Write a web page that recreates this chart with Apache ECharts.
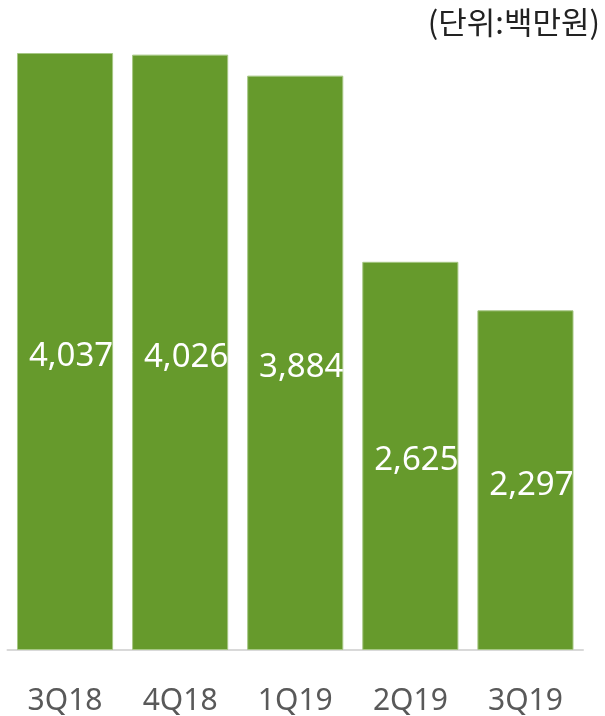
<!DOCTYPE html>
<html><head><meta charset="utf-8">
<script src="https://cdn.jsdelivr.net/npm/echarts@6/dist/echarts.min.js"></script>
<style>html,body{margin:0;padding:0;background:#fff}#c{width:605px;height:716px}</style>
</head><body><div id="c"></div>
<script>
const categories = ['3Q18', '4Q18', '1Q19', '2Q19', '3Q19'];
const values = [4037, 4026, 3884, 2625, 2297];
const unitLabel = '(단위:백만원)';

const chart = echarts.init(document.getElementById('c'));
chart.setOption({
  animation: false,
  title: {
    text: unitLabel, right: 0, top: 2,
    textStyle: { fontFamily: 'Noto Sans CJK KR', fontSize: 31, fontWeight: 'normal', color: '#222' }
  },
  grid: { left: 7.5, right: 22, top: 53, bottom: 66, containLabel: false },
  xAxis: {
    type: 'category', data: categories,
    axisLine: { lineStyle: { color: '#d9d9d9', width: 2 } },
    axisTick: { show: false },
    axisLabel: { color: '#595959', fontSize: 30, fontFamily: 'Noto Sans', margin: 36 }
  },
  yAxis: { type: 'value', min: 0, max: 'dataMax', show: false, splitLine: { show: false } },
  series: [{
    type: 'bar', data: values, barCategoryGap: '16.5%',
    itemStyle: { color: '#669a2c', borderColor: '#a6c784', borderWidth: 1 },
    label: {
      show: true, position: 'inside', offset: [6, 5], color: '#fff', fontSize: 33,
      fontFamily: 'Noto Sans',
      formatter: p => p.value.toLocaleString('en-US')
    }
  }]
});
</script></body></html>
